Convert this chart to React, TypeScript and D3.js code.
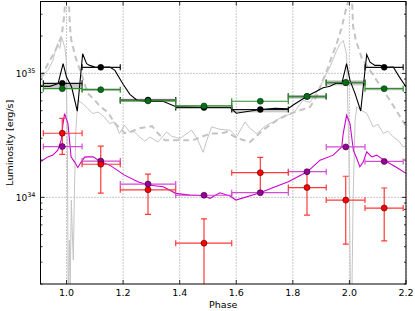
import React from "react";
import * as d3 from "d3";

// phase bins (two cycles shown), luminosities in units of 1e34 erg/s
const phases = [0.985, 1.121, 1.288, 1.486, 1.685, 1.85, 1.987, 2.123];
const binLo = [0.918, 1.055, 1.19, 1.386, 1.584, 1.784, 1.918, 2.055];
const binHi = [1.055, 1.19, 1.386, 1.584, 1.784, 1.918, 2.055, 2.19];

const blackPts = [8.31, 11.18, 6.1, 5.3, 5.11, 6.5, 8.4, 11.18];
const greenPts = [7.53, 7.39, 6.0, 5.46, 5.96, 6.53, 8.46, 7.53];
const bandLo = [7.6, 7.2, 5.9, 5.3, 4.85, 6.25, 8.0, 7.3];
const bandHi = [8.3, 7.6, 6.25, 5.55, 5.15, 6.7, 8.8, 7.7];
const magentaPts = [2.57, 1.96, 1.28, 1.04, 1.09, 1.61, 2.55, 1.95];
const redPts = [3.29, 1.85, 1.15, 0.427, 1.58, 1.2, 0.95, 0.82];
const redLo = [2.22, 1.08, 0.73, 0.1, 1.12, 0.72, 0.419, 0.445];
const redHi = [4.33, 2.59, 1.54, 0.67, 2.1, 1.61, 1.48, 1.19];

const blackModel: [number, number][] = [
  [0.908, 7.86], [0.941, 7.86], [0.97, 8.26], [0.988, 11.97], [1.0, 9.34],
  [1.018, 7.76], [1.038, 4.95], [1.057, 14.4], [1.071, 11.97], [1.082, 11.6],
  [1.1, 11.24], [1.121, 11.18], [1.153, 11.24], [1.171, 10.57], [1.2, 8.16],
  [1.224, 6.78], [1.249, 6.07], [1.288, 5.95], [1.341, 5.95], [1.387, 5.38],
  [1.487, 5.3], [1.579, 5.3], [1.6, 4.77], [1.685, 5.11], [1.738, 5.23],
  [1.783, 5.18], [1.8, 5.53], [1.85, 6.53], [1.907, 7.67], [1.931, 7.86],
  [1.955, 8.36], [1.973, 8.26], [1.99, 11.97], [2.002, 8.78], [2.02, 6.87],
  [2.04, 4.97], [2.061, 14.2], [2.073, 12.33], [2.09, 11.6], [2.108, 11.6],
  [2.126, 11.18], [2.155, 11.24], [2.173, 9.64], [2.2, 7.76],
];

const graySolid: [number, number][] = [
  [0.909, 8.78], [0.923, 10.0], [0.934, 10.57], [0.941, 11.38], [0.952, 12.72],
  [0.959, 14.76], [0.969, 17.43], [0.976, 15.89], [0.983, 19.48], [0.994, 16.19],
  [0.999, 12.72], [1.003, 2.4], [1.006, 0.149], [1.01, 0.453], [1.013, 0.18],
  [1.017, 0.951], [1.02, 0.546], [1.024, 0.313], [1.028, 1.145], [1.033, 3.48],
  [1.04, 6.07], [1.058, 5.7], [1.075, 5.2], [1.093, 4.74], [1.111, 4.88],
  [1.134, 4.45], [1.152, 3.94], [1.17, 4.06], [1.187, 3.27], [1.205, 3.82],
  [1.223, 3.37], [1.24, 3.37], [1.259, 3.06], [1.277, 2.84], [1.295, 3.07],
  [1.323, 2.79], [1.354, 3.37], [1.372, 3.11], [1.401, 2.98], [1.422, 3.23],
  [1.442, 3.48], [1.461, 3.0], [1.483, 2.31], [1.496, 2.89], [1.513, 3.7],
  [1.542, 3.54], [1.578, 3.48], [1.601, 3.07], [1.631, 4.06], [1.648, 3.61],
  [1.672, 3.27], [1.707, 3.82], [1.743, 4.19], [1.765, 4.51], [1.801, 4.74],
  [1.836, 6.07], [1.861, 5.84], [1.896, 7.76], [1.931, 11.24], [1.955, 15.31],
  [1.967, 17.34], [1.978, 18.43], [1.99, 14.4], [1.998, 2.4], [2.004, 0.149],
  [2.009, 0.18], [2.013, 0.951], [2.02, 4.19], [2.026, 5.36], [2.041, 5.04],
  [2.061, 4.77], [2.084, 3.7], [2.101, 3.89], [2.12, 3.27], [2.136, 3.42],
  [2.155, 3.07], [2.172, 2.89], [2.19, 2.55], [2.2, 2.59],
];

const grayDashed: [number, number][] = [
  [0.909, 9.29], [0.925, 10.9], [0.941, 12.72], [0.955, 14.5], [0.969, 16.8],
  [0.983, 20.2], [0.992, 29.3], [0.998, 51.1], [1.006, 51.1], [1.012, 24.0],
  [1.017, 18.4], [1.033, 13.2], [1.054, 9.64], [1.075, 6.9], [1.1, 6.07],
  [1.118, 5.43], [1.146, 4.86], [1.171, 3.96], [1.206, 3.29], [1.224, 3.37],
  [1.259, 3.61], [1.302, 3.75], [1.323, 3.29], [1.348, 2.89], [1.401, 2.89],
  [1.447, 2.89], [1.507, 3.27], [1.542, 3.27], [1.567, 3.37], [1.602, 3.0],
  [1.648, 2.79], [1.694, 3.48], [1.744, 4.19], [1.79, 4.74], [1.861, 5.36],
  [1.882, 6.41], [1.903, 8.46], [1.925, 11.24], [1.937, 13.53], [1.955, 17.34],
  [1.973, 23.58], [1.984, 30.22], [1.996, 38.67], [2.0, 51.1], [2.007, 51.1],
  [2.013, 24.0], [2.023, 18.4], [2.044, 13.2], [2.073, 10.57], [2.108, 8.0],
  [2.143, 6.07], [2.2, 3.75],
];

const magentaModel: [number, number][] = [
  [0.909, 1.948], [0.934, 2.12], [0.952, 2.19], [0.969, 2.4], [0.981, 2.89],
  [0.987, 3.82], [0.993, 4.74], [1.005, 3.94], [1.016, 2.12], [1.028, 1.934],
  [1.04, 1.743], [1.052, 1.934], [1.064, 2.11], [1.076, 2.12], [1.094, 2.12],
  [1.121, 1.941], [1.153, 1.819], [1.205, 1.511], [1.252, 1.335], [1.289, 1.256],
  [1.342, 1.217], [1.386, 1.077], [1.436, 1.043], [1.486, 1.03], [1.507, 0.982],
  [1.542, 1.089], [1.578, 1.024], [1.599, 0.951], [1.684, 1.089], [1.754, 1.256],
  [1.784, 1.335], [1.851, 1.607], [1.896, 1.995], [1.943, 2.19], [1.961, 2.4],
  [1.973, 2.55], [1.978, 3.27], [1.99, 4.59], [2.002, 3.94], [2.014, 2.4],
  [2.026, 2.06], [2.037, 1.763], [2.049, 1.934], [2.061, 2.33], [2.079, 2.12],
  [2.096, 2.19], [2.126, 1.97], [2.167, 1.743], [2.2, 1.56],
];

const xTicks = [1.0, 1.2, 1.4, 1.6, 1.8, 2.0, 2.2];
const yMajor = [1, 10];
const yMajorLabels = ["34", "35"];
const yMinor = [0.2, 0.3, 0.4, 0.5, 0.6, 0.7, 0.8, 0.9, 2, 3, 4, 5, 6, 7, 8, 9, 20, 30];

const W = 415, H = 311;
const L = 40.5, R = 406, T = 1.5, B = 284;

export default function App() {
  const x = d3.scaleLinear().domain([0.908, 2.2]).range([L, R]);
  const y = d3.scaleLog().domain([0.2, 38]).range([B, T]);
  const line = d3.line<[number, number]>().x(d => x(d[0])).y(d => y(d[1]));
  const cap = 3;
  const font = "DejaVu Sans, sans-serif";

  const hbar = (i: number, v: number, color: string, key: string, w = 1.2) => (
    <g key={key} stroke={color} strokeWidth={w}>
      <line x1={x(binLo[i])} x2={x(binHi[i])} y1={y(v)} y2={y(v)} />
      <line x1={x(binLo[i])} x2={x(binLo[i])} y1={y(v) - cap} y2={y(v) + cap} />
      <line x1={x(binHi[i])} x2={x(binHi[i])} y1={y(v) - cap} y2={y(v) + cap} />
    </g>
  );

  return (
    <svg width={W} height={H} style={{ position: "absolute", left: 0, top: 0, background: "#fff" }} fontFamily={font}>
      <defs>
        <clipPath id="plot">
          <rect x={L} y={T} width={R - L} height={B - T} />
        </clipPath>
      </defs>
      {/* grid */}
      <g stroke="#777" strokeWidth={0.8} strokeDasharray="1,2">
        {xTicks.map(t => <line key={"gx" + t} x1={x(t)} x2={x(t)} y1={T} y2={B} />)}
        {yMajor.map(t => <line key={"gy" + t} x1={L} x2={R} y1={y(t)} y2={y(t)} />)}
      </g>
      <g clipPath="url(#plot)" fill="none">
        <path d={line(graySolid) ?? ""} stroke="#c4c4c4" strokeWidth={1} />
        <path d={line(grayDashed) ?? ""} stroke="#c4c4c4" strokeWidth={2} strokeDasharray="6,4" />
        {phases.map((p, i) => (
          <rect key={"band" + i} x={x(binLo[i])} width={x(binHi[i]) - x(binLo[i])}
            y={y(bandHi[i])} height={y(bandLo[i]) - y(bandHi[i])} fill="#888" opacity={0.45} />
        ))}
        <path d={line(blackModel) ?? ""} stroke="#000" strokeWidth={1.1} />
        <path d={line(magentaModel) ?? ""} stroke="#cc00cc" strokeWidth={1.1} />
        {phases.map((p, i) => hbar(i, blackPts[i], "#111", "bb" + i))}
        {phases.map((p, i) => hbar(i, greenPts[i], "#2f8f2f", "gb" + i))}
        {phases.map((p, i) => hbar(i, magentaPts[i], "#d24dd2", "mb" + i))}
        {phases.map((p, i) => (
          <g key={"rb" + i} stroke="#ff3a3a" strokeWidth={1.2}>
            {hbar(i, redPts[i], "#ff3a3a", "rh" + i)}
            <line x1={x(p)} x2={x(p)} y1={y(redLo[i])} y2={y(redHi[i])} />
            <line x1={x(p) - cap} x2={x(p) + cap} y1={y(redLo[i])} y2={y(redLo[i])} />
            <line x1={x(p) - cap} x2={x(p) + cap} y1={y(redHi[i])} y2={y(redHi[i])} />
          </g>
        ))}
        {phases.map((p, i) => <circle key={"bp" + i} cx={x(p)} cy={y(blackPts[i])} r={3} fill="#000" stroke="#000" strokeWidth={0.5} />)}
        {phases.map((p, i) => <circle key={"gp" + i} cx={x(p)} cy={y(greenPts[i])} r={3} fill="#0a6e0a" stroke="#033" strokeWidth={0.6} />)}
        {phases.map((p, i) => <circle key={"mp" + i} cx={x(p)} cy={y(magentaPts[i])} r={3} fill="#990099" stroke="#300030" strokeWidth={0.6} />)}
        {phases.map((p, i) => <circle key={"rp" + i} cx={x(p)} cy={y(redPts[i])} r={3} fill="#ff0000" stroke="#400" strokeWidth={0.6} />)}
      </g>
      {/* frame and ticks */}
      <rect x={L} y={T} width={R - L} height={B - T} fill="none" stroke="#000" strokeWidth={1} />
      <g stroke="#000" strokeWidth={0.8}>
        {xTicks.map(t => (
          <g key={"xt" + t}>
            <line x1={x(t)} x2={x(t)} y1={B} y2={B - 4} />
            <line x1={x(t)} x2={x(t)} y1={T} y2={T + 4} />
          </g>
        ))}
        {yMajor.map(t => (
          <g key={"yt" + t}>
            <line x1={L} x2={L + 4} y1={y(t)} y2={y(t)} />
            <line x1={R} x2={R - 4} y1={y(t)} y2={y(t)} />
          </g>
        ))}
        {yMinor.map(t => (
          <g key={"ym" + t}>
            <line x1={L} x2={L + 2} y1={y(t)} y2={y(t)} />
            <line x1={R} x2={R - 2} y1={y(t)} y2={y(t)} />
          </g>
        ))}
      </g>
      <g fontSize={9.5} fill="#000">
        {xTicks.map(t => (
          <text key={"xl" + t} x={x(t)} y={B + 12} textAnchor="middle">{t.toFixed(1)}</text>
        ))}
        {yMajor.map((t, i) => (
          <text key={"yl" + t} x={L - 5} y={y(t) + 3.5} textAnchor="end" fontSize={9}>
            10<tspan dy={-4} fontSize={6.5}>{yMajorLabels[i]}</tspan>
          </text>
        ))}
        <text x={(L + R) / 2} y={H - 3} textAnchor="middle">Phase</text>
        <text transform={`translate(13,${(T + B) / 2}) rotate(-90)`} textAnchor="middle">Luminosity [erg/s]</text>
      </g>
    </svg>
  );
}
